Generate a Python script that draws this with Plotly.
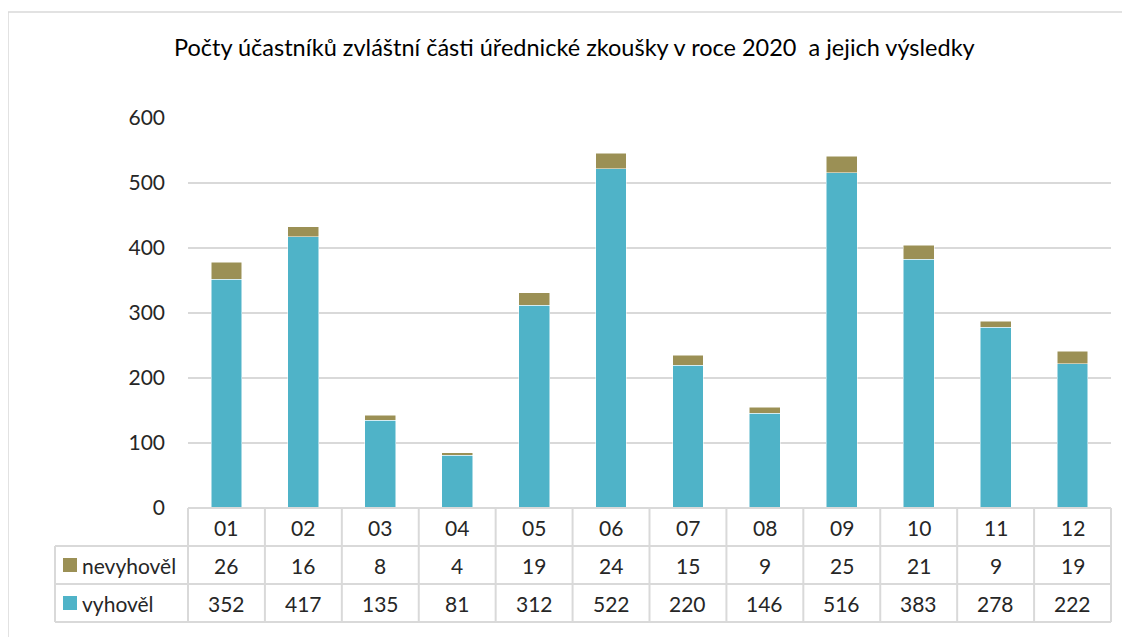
import plotly.graph_objects as go

months = ["01", "02", "03", "04", "05", "06", "07", "08", "09", "10", "11", "12"]
vyhovel = [352, 417, 135, 81, 312, 522, 220, 146, 516, 383, 278, 222]
nevyhovel = [26, 16, 8, 4, 19, 24, 15, 9, 25, 21, 9, 19]
y_ticks = [0, 100, 200, 300, 400, 500, 600]
title = "Počty účastníků zvláštní části úřednické zkoušky v roce 2020  a jejich výsledky"

C_OK = "#4fb3c8"
C_FAIL = "#9b9055"
GRID = "#d9d9d9"
FONT = "Lato, 'Open Sans', sans-serif"

OFF = 8  # page body margin
W, H = 1130 - OFF, 637 - OFF
L, R, T, B = 188, 1111, 118, 508  # screen pixel coordinates
pw, ph = R - L, B - T

def px_x(p):
    return (p - L) / pw

def px_y(p):
    return (B - p) / ph

fig = go.Figure()
fig.add_bar(x=months, y=vyhovel, name="vyhověl", marker=dict(color=C_OK, line=dict(color="white", width=0.5)), width=0.4)
fig.add_bar(x=months, y=nevyhovel, name="nevyhověl", marker=dict(color=C_FAIL, line=dict(color="white", width=0.5)), width=0.4)

shapes = []
# outer border
shapes.append(dict(type="rect", xref="paper", yref="paper", x0=px_x(8), x1=px_x(1150), y0=px_y(660), y1=px_y(12),
                   line=dict(color=GRID, width=1.5), fillcolor="rgba(0,0,0,0)", layer="below"))

rows_px = [508, 546, 584, 622]
col_w = pw / len(months)
tline = dict(color=GRID, width=2)
shapes.append(dict(type="line", xref="paper", yref="paper", x0=px_x(L), x1=px_x(R), y0=px_y(rows_px[0]), y1=px_y(rows_px[0]), line=tline))
for rp in rows_px[1:]:
    shapes.append(dict(type="line", xref="paper", yref="paper", x0=px_x(55), x1=px_x(R), y0=px_y(rp), y1=px_y(rp), line=tline))
shapes.append(dict(type="line", xref="paper", yref="paper", x0=px_x(55), x1=px_x(55), y0=px_y(rows_px[1]), y1=px_y(rows_px[3]), line=tline))
for i in range(len(months) + 1):
    xp = L + i * col_w
    shapes.append(dict(type="line", xref="paper", yref="paper", x0=px_x(xp), x1=px_x(xp), y0=px_y(rows_px[0]), y1=px_y(rows_px[3]), line=tline))

annotations = []
tfont = dict(family=FONT, size=21, color="#262626")
for i, m in enumerate(months):
    for r, txt in enumerate([m, str(nevyhovel[i]), str(vyhovel[i])]):
        yc = (rows_px[r] + rows_px[r + 1]) / 2
        annotations.append(dict(x=i, xref="x", y=px_y(yc), yref="paper", text=txt, showarrow=False,
                                font=tfont, xanchor="center", yanchor="middle"))

for r, (name, col) in enumerate([("nevyhověl", C_FAIL), ("vyhověl", C_OK)], start=1):
    yc = (rows_px[r] + rows_px[r + 1]) / 2
    shapes.append(dict(type="rect", xref="paper", yref="paper", x0=px_x(63), x1=px_x(77), y0=px_y(yc + 7), y1=px_y(yc - 7),
                       fillcolor=col, line=dict(width=0)))
    annotations.append(dict(x=px_x(80), xref="paper", y=px_y(yc), yref="paper", text=name, showarrow=False,
                            font=tfont, xanchor="left", yanchor="middle"))

annotations.append(dict(x=px_x(574), xref="paper", y=px_y(47), yref="paper", text=title, showarrow=False,
                        font=dict(family=FONT, size=23.5, color="#000000"), xanchor="center", yanchor="middle"))

fig.update_layout(
    width=W, height=H,
    margin=dict(l=L - OFF, r=1130 - R, t=T - OFF, b=637 - B, pad=0),
    barmode="stack",
    showlegend=False,
    plot_bgcolor="white", paper_bgcolor="white",
    xaxis=dict(type="category", categoryorder="array", categoryarray=months, showticklabels=False,
               showgrid=False, zeroline=False, showline=False, ticks="", range=[-0.5, len(months) - 0.5]),
    yaxis=dict(range=[0, 600], tickvals=y_ticks, ticktext=[str(v) for v in y_ticks], showgrid=True,
               gridcolor=GRID, gridwidth=1.5, zeroline=False, showline=False, ticks="", ticklen=0,
               tickfont=dict(family=FONT, size=21, color="#262626"), ticklabelstandoff=22),
    shapes=shapes,
    annotations=annotations,
)

fig.write_html("out.html")
